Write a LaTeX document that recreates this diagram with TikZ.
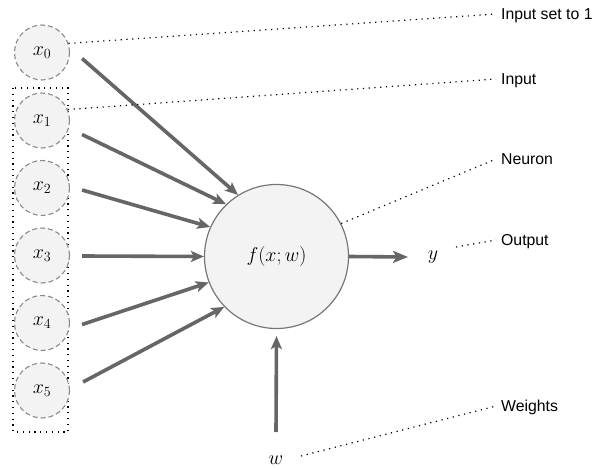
\RequirePackage{fix-cm}
\documentclass[tikz,border=0pt]{standalone}
\usepackage{fontspec}
\newfontfamily\labelfont{Liberation Sans}
\usetikzlibrary{arrows.meta}

\definecolor{nodefill}{HTML}{F3F3F3}
\definecolor{dashgray}{HTML}{8A8A8A}
\definecolor{rimgray}{HTML}{777777}
\definecolor{arrowgray}{HTML}{666666}

\begin{document}
\begin{tikzpicture}[x=1pt,y=-1pt,
  mathfont/.style={font=\fontsize{20}{24}\selectfont},
  inputnode/.style={circle, draw=dashgray, fill=nodefill, line width=1.1pt,
    dash pattern=on 5pt off 3pt, minimum size=55pt, inner sep=0pt, mathfont},
  neuronnode/.style={circle, draw=rimgray, fill=nodefill, line width=1.2pt,
    minimum size=144pt, inner sep=0pt, mathfont},
  mathlabel/.style={inner sep=0pt, mathfont},
  caption/.style={anchor=west, inner xsep=5pt, inner ysep=0pt,
    text height=11.3pt, text depth=0pt,
    font=\labelfont\fontsize{15.8}{18}\selectfont},
  leader/.style={draw=black, line width=1.2pt, dash pattern=on 1.2pt off 4.6pt},
  groupbox/.style={draw=black, line width=1.2pt, dash pattern=on 1.2pt off 4.6pt},
  feed/.style={draw=arrowgray, line width=3.6pt,
    -{Stealth[length=13pt,width=11pt,inset=3pt]}},
  outfeed/.style={draw=arrowgray, line width=3.6pt,
    -{Stealth[length=15pt,width=12pt,inset=3.5pt]}}
]
\useasboundingbox (0,0) rectangle (594,470);

% bracket around the regular inputs
\draw[groupbox] (13,88) rectangle (68,432);

% input units
\node[inputnode] (x0) at (42,52.5)  {$x_0$};
\node[inputnode] (x1) at (42,120.5) {$x_1$};
\node[inputnode] (x2) at (42,188)   {$x_2$};
\node[inputnode] (x3) at (42,255.5) {$x_3$};
\node[inputnode] (x4) at (42,323)   {$x_4$};
\node[inputnode] (x5) at (42,390.5) {$x_5$};

% neuron, output and weights
\node[neuronnode] (neuron) at (276.5,256.5) {$f(x;w)$};
\node[mathlabel] (y) at (433,257) {$y$};
\node[mathlabel] (w) at (276,460) {$w$};

% weighted inputs into the neuron
\draw[feed] ([shift={(12,6)}]x0.east)  -- (neuron.122);
\draw[feed] ([shift={(12,14)}]x1.east) -- (neuron.134);
\draw[feed] ([shift={(12,2)}]x2.east)  -- (neuron.156);
\draw[feed] ([shift={(12,0.5)}]x3.east) -- (neuron.180);
\draw[feed] ([shift={(12,1.5)}]x4.east) -- (neuron.201);
\draw[feed] ([shift={(13,-8.5)}]x5.east) -- (neuron.224);

% output and weight arrows
\draw[outfeed] (neuron.east) -- ([xshift=-25pt]y.center);
\draw[feed] ([yshift=28pt]w.center) -- ([yshift=-7pt]neuron.south);

% captions
\node[caption] (c0) at (496,14)  {Input set to 1};
\node[caption] (c1) at (496,79)  {Input};
\node[caption] (c2) at (496,159) {Neuron};
\node[caption] (c3) at (496,240) {Output};
\node[caption] (c4) at (496,406) {Weights};

% dotted leaders to the captions
\draw[leader] (x0.19) -- (c0.west);
\draw[leader] (x1.23) -- (c1.west);
\draw[leader] (neuron.27) -- (c2.west);
\draw[leader] ([xshift=23pt,yshift=10pt]y.center) -- (c3.west);
\draw[leader] ([xshift=25pt,yshift=4pt]w.center) -- (c4.west);
\end{tikzpicture}
\end{document}
